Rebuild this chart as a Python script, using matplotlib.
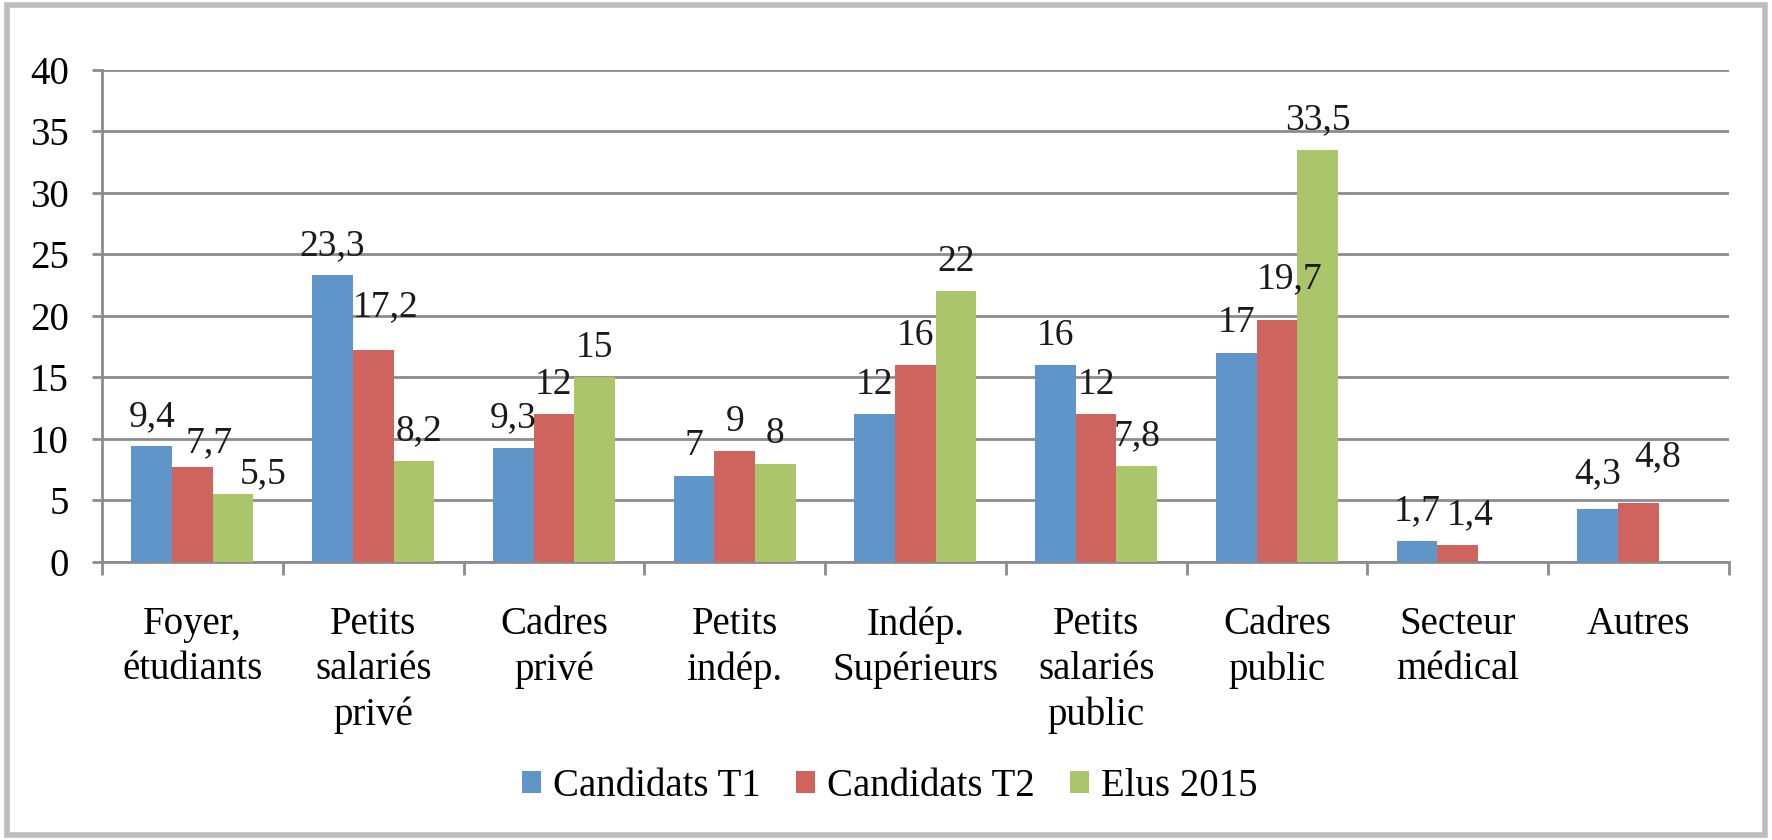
import matplotlib
matplotlib.use('Agg')
import matplotlib.pyplot as plt
from matplotlib.patches import Rectangle
import numpy as np

plt.rcParams['font.family'] = ['Liberation Serif', 'DejaVu Serif']

categories = [
    'Foyer,\nétudiants',
    'Petits\nsalariés\nprivé',
    'Cadres\nprivé',
    'Petits\nindép.',
    'Indép.\nSupérieurs',
    'Petits\nsalariés\npublic',
    'Cadres\npublic',
    'Secteur\nmédical',
    'Autres',
]
series_names = ['Candidats T1', 'Candidats T2', 'Elus 2015']
candidats_t1 = [9.4, 23.3, 9.3, 7, 12, 16, 17, 1.7, 4.3]
candidats_t2 = [7.7, 17.2, 12, 9, 16, 12, 19.7, 1.4, 4.8]
elus_2015 = [5.5, 8.2, 15, 8, 22, 7.8, 33.5, np.nan, np.nan]
yticks = [0, 5, 10, 15, 20, 25, 30, 35, 40]

colors = ['#6095CA', '#CF635E', '#ABC56B']
grid_col = '#8C8C8C'
fs = 28
label_fs = 27

# extra label nudges (points) where labels would collide, as in the original
nudge = {(1, 0): (12, -4), (2, 0): (22, -7),
         (1, 1): (9, 10), (2, 1): (4, 0), (1, 6): (9, 8), (1, 7): (9, 0),
         (0, 8): (0, 4), (1, 8): (14, 12)}

fig = plt.figure(figsize=(17.72, 8.4), dpi=100)
ax = fig.add_axes([0.0576, 0.331, 0.918, 0.5857])

x = np.arange(len(categories))
w = 0.225
all_series = [candidats_t1, candidats_t2, elus_2015]
for i, (vals, name, col) in enumerate(zip(all_series, series_names, colors)):
    pos = x + (i - 1) * w
    vals = np.array(vals, dtype=float)
    ax.bar(pos, np.nan_to_num(vals), width=w, color=col, label=name, zorder=3)
    for j, (px, v) in enumerate(zip(pos, vals)):
        if np.isnan(v):
            continue
        dx, dy = nudge.get((i, j), (0, 0))
        ax.annotate(f'{v:g}'.replace('.', ','), (px, v), xytext=(dx, 9 + dy),
                    textcoords='offset points', ha='center', va='bottom',
                    fontsize=label_fs, color='#1a1a1a', zorder=4)

ax.set_ylim(0, 40)
ax.set_xlim(-0.5, len(categories) - 0.5)
ax.set_yticks(yticks)
ax.set_yticklabels([str(t) for t in yticks], fontsize=fs)
ax.yaxis.grid(True, color=grid_col, linewidth=2, zorder=0)
ax.set_axisbelow(True)

ax.set_xticks(x)
ax.set_xticklabels(categories, fontsize=fs, linespacing=1.28)
ax.set_xticks(np.arange(-0.5, len(categories)), minor=True)
ax.tick_params(axis='x', which='major', length=0, pad=32)
ax.tick_params(axis='x', which='minor', length=9, width=2, color=grid_col)
ax.tick_params(axis='y', length=7, width=2, color=grid_col, pad=17)

for s in ['top', 'right']:
    ax.spines[s].set_visible(False)
for s in ['left', 'bottom']:
    ax.spines[s].set_color(grid_col)
    ax.spines[s].set_linewidth(2)

leg = fig.legend(loc='center', bbox_to_anchor=(0.502, 0.064), ncol=3,
                 frameon=False, fontsize=fs, handlelength=0.5,
                 handleheight=0.5, handletextpad=0.3, columnspacing=0.9)

fig.patches.append(Rectangle((0.004, 0.006), 0.992, 0.988, transform=fig.transFigure,
                             fill=False, edgecolor='#BDBDBD', linewidth=4))

fig.savefig('out.png', dpi=100)
